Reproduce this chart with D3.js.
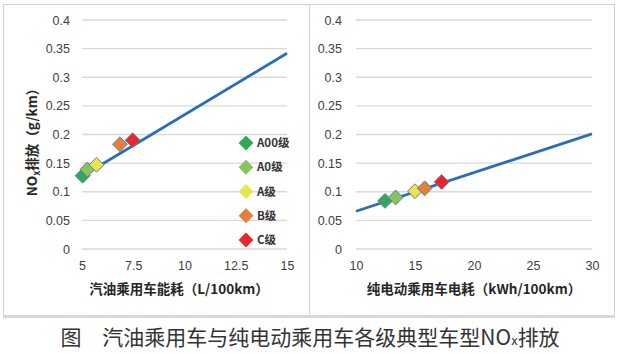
<!DOCTYPE html>
<html><head><meta charset="utf-8">
<script src="https://cdn.jsdelivr.net/npm/d3@7"></script>
<style>
html,body{margin:0;padding:0;background:#fff;}
svg{display:block;}
</style></head>
<body>
<svg id="c" width="624" height="354"></svg>
<script>
// ---- data ----
const classes = ["A00级", "A0级", "A级", "B级", "C级"];
const classColors = ["#2ea85b", "#86c55a", "#e8e64c", "#e57f3c", "#e8262b"];
const gasX = [5.03, 5.26, 5.71, 6.85, 7.47];
const gasY = [0.128, 0.139, 0.147, 0.183, 0.190];
const gasLineX = [5, 15];
const gasLineY = [0.127, 0.342];
const evX = [12.46, 13.36, 15.0, 15.82, 17.26];
const evY = [0.084, 0.090, 0.101, 0.106, 0.117];
const evLineX = [10, 30];
const evLineY = [0.066, 0.201];
const yTicks = [0, 0.05, 0.1, 0.15, 0.2, 0.25, 0.3, 0.35, 0.4];
const gasXTicks = [5, 7.5, 10, 12.5, 15];
const evXTicks = [10, 15, 20, 25, 30];
const gasXTitle = "汽油乘用车能耗（L/100km）";
const evXTitle = "纯电动乘用车电耗（kWh/100km）";
const caption = "图　汽油乘用车与纯电动乘用车各级典型车型NOx排放";

const svg = d3.select("#c");
const numFont = "'Liberation Sans', Arial, sans-serif";
const cjkFont = "'Noto Sans CJK SC', 'Noto Sans', sans-serif";

// frame
svg.append("rect").attr("x",0).attr("y",0).attr("width",624).attr("height",354).attr("fill","#fff");
svg.append("rect").attr("x",3.5).attr("y",4.5).attr("width",611).attr("height",311)
  .attr("fill","none").attr("stroke","#d0d0d0").attr("stroke-width",1);
svg.append("line").attr("x1",309.5).attr("x2",309.5).attr("y1",4.5).attr("y2",315.5)
  .attr("stroke","#d0d0d0").attr("stroke-width",1);
svg.append("rect").attr("x",3).attr("y",315).attr("width",612).attr("height",3).attr("fill","#d9d9d9");

const yScale = d3.scaleLinear().domain([0,0.4]).range([249,20]);
const yFmt = d => (d===0 ? "0" : d3.format("")(+d.toFixed(2)));

function panel(opt){
  const x = d3.scaleLinear().domain(opt.xDomain).range(opt.xRange);
  const g = svg.append("g");
  // gridlines
  g.append("g").selectAll("line").data(yTicks).join("line")
    .attr("x1", opt.xRange[0]).attr("x2", opt.xRange[1])
    .attr("y1", d=>yScale(d)).attr("y2", d=>yScale(d))
    .attr("stroke","#d9d9d9").attr("stroke-width",1.3);
  // y axis labels
  const ya = g.append("g").attr("transform",`translate(${opt.xRange[0]},0)`)
    .call(d3.axisLeft(yScale).tickValues(yTicks).tickFormat(yFmt).tickSize(0).tickPadding(opt.yPad));
  ya.select(".domain").remove();
  ya.selectAll("text").attr("font-family",numFont).attr("font-size",12.5).attr("fill","#404040");
  // x axis labels
  const xa = g.append("g").attr("transform",`translate(0,249)`)
    .call(d3.axisBottom(x).tickValues(opt.xTicks).tickFormat(d=>String(d)).tickSize(0).tickPadding(12));
  xa.select(".domain").remove();
  xa.selectAll("text").attr("font-family",numFont).attr("font-size",12.5).attr("fill","#404040");
  // x title
  g.append("text").attr("x", opt.titleX).attr("y", 294).attr("text-anchor","middle")
    .attr("font-family",cjkFont).attr("font-weight","bold").attr("font-size",13.5).attr("fill","#262626")
    .text(opt.xTitle);
  // fit line
  const line = d3.line().x(d=>x(d[0])).y(d=>yScale(d[1]));
  g.append("path").datum(opt.lineX.map((v,i)=>[v,opt.lineY[i]]))
    .attr("d", line).attr("fill","none").attr("stroke","#2a6fb6").attr("stroke-width",2.8);
  // markers
  const sym = d3.symbol().type(d3.symbolDiamond2).size(140);
  g.append("g").selectAll("path").data(opt.px.map((v,i)=>({x:v,y:opt.py[i],c:classColors[i]}))).join("path")
    .attr("d", sym)
    .attr("transform", d=>`translate(${x(d.x)},${yScale(d.y)})`)
    .attr("fill", d=>d.c).attr("stroke","#6a7a9a").attr("stroke-width",1);
  return x;
}

panel({xDomain:[5,15], xRange:[82,287], xTicks:gasXTicks, xTitle:gasXTitle, titleX:179,
  lineX:gasLineX, lineY:gasLineY, px:gasX, py:gasY, yPad:12});
panel({xDomain:[10,30], xRange:[356,592], xTicks:evXTicks, xTitle:evXTitle, titleX:474,
  lineX:evLineX, lineY:evLineY, px:evX, py:evY, yPad:14});

// y title (left)
const yt = svg.append("text").attr("transform","translate(37,139) rotate(-90)")
  .attr("text-anchor","middle").attr("font-family",cjkFont).attr("font-weight","bold")
  .attr("font-size",13.5).attr("fill","#262626");
yt.append("tspan").text("NO");
yt.append("tspan").attr("font-size",9).attr("dy",3).text("x");
yt.append("tspan").attr("dy",-3).text("排放（g/km）");

// legend
const leg = svg.append("g");
const legY = d3.scalePoint().domain(classes).range([143,240]);
const lsym = d3.symbol().type(d3.symbolDiamond2).size(140);
leg.selectAll("path").data(classes).join("path")
  .attr("d", lsym).attr("transform", d=>`translate(246,${legY(d)})`)
  .attr("fill",(d,i)=>classColors[i]).attr("stroke","none");
leg.selectAll("text").data(classes).join("text")
  .attr("x",257).attr("y",d=>legY(d)).attr("dy","0.35em")
  .attr("font-family",cjkFont).attr("font-weight","bold").attr("font-size",11.5).attr("fill","#333")
  .text(d=>d);

// caption
const cap = svg.append("text").attr("x",310).attr("y",345).attr("text-anchor","middle")
  .attr("font-family",cjkFont).attr("font-size",21).attr("fill","#333");
cap.append("tspan").text(caption.replace("NOx排放","NO"));
cap.append("tspan").attr("font-size",13).text("x");
cap.append("tspan").text("排放");
</script>
</body></html>
